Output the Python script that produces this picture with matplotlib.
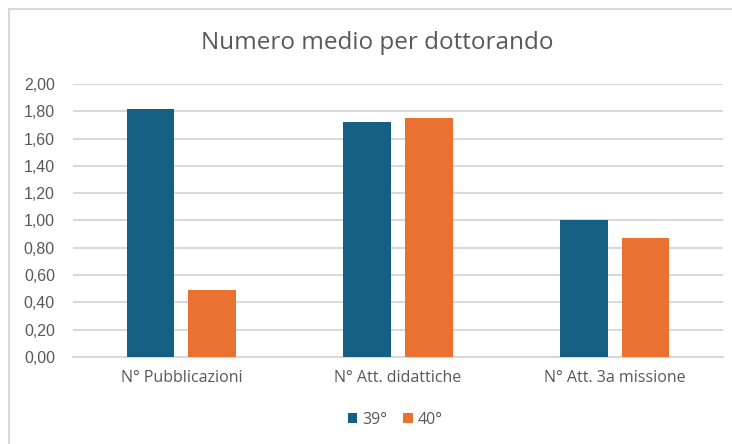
import matplotlib.pyplot as plt
import numpy as np
from matplotlib.lines import Line2D
from matplotlib.ticker import FuncFormatter

# --- DATA ---
categories = ['N° Pubblicazioni', 'N° Att. didattiche', 'N° Att. 3a missione']
series_names = ['39°', '40°']
vals_39 = [1.82, 1.72, 1.00]
vals_40 = [0.49, 1.75, 0.87]

col_39 = '#156082'
col_40 = '#E97132'
grey_txt = '#595959'
grid_col = '#D9D9D9'

plt.rcParams['font.family'] = ['Open Sans', 'DejaVu Sans']

W, H = 732, 444
fig = plt.figure(figsize=(W / 100, H / 100), dpi=100)
ax = fig.add_axes([73 / W, 1 - 357 / H, 650 / W, 273 / H])

x = np.arange(len(categories))
bw = 0.22
off = 0.143
ax.bar(x - off, vals_39, bw, color=col_39, label=series_names[0], zorder=3)
ax.bar(x + off, vals_40, bw, color=col_40, label=series_names[1], zorder=3)

ax.set_xlim(-0.5, len(categories) - 0.5)
ax.set_ylim(0, 2.0)
ax.set_yticks(np.arange(0, 2.01, 0.2))
ax.yaxis.set_major_formatter(FuncFormatter(lambda v, p: f'{v:.2f}'.replace('.', ',')))
ax.set_xticks(x)
ax.set_xticklabels(categories, fontsize=11.5)

ax.grid(axis='y', color=grid_col, linewidth=1.5, zorder=0)
for s in ['top', 'right', 'left']:
    ax.spines[s].set_visible(False)
ax.spines['bottom'].set_color(grid_col)
ax.spines['bottom'].set_linewidth(1.5)
ax.tick_params(axis='both', length=0, labelcolor=grey_txt)
ax.tick_params(axis='y', pad=13)
ax.tick_params(axis='x', pad=9)
for t in ax.get_yticklabels():
    t.set_fontfamily('Liberation Sans')
    t.set_fontsize(11.5)

fig.text(377 / W, 1 - 43 / H, 'Numero medio per dottorando', ha='center', va='center',
         fontsize=17.5, color=grey_txt)

ax.legend(loc='center', bbox_to_anchor=(395 / W, 1 - 420 / H), bbox_transform=fig.transFigure,
          ncol=2, frameon=False, prop={'size': 11.5}, labelcolor=grey_txt,
          handlelength=0.6, handleheight=0.6, handletextpad=0.3, columnspacing=1.0)

# chart frame (left and top edges visible)
fig.add_artist(Line2D([9 / W, 9 / W], [0, 1 - 9 / H], color=grid_col, linewidth=1.5))
fig.add_artist(Line2D([9 / W, 1], [1 - 9 / H, 1 - 9 / H], color=grid_col, linewidth=1.5))

plt.savefig('out.png', dpi=100)
